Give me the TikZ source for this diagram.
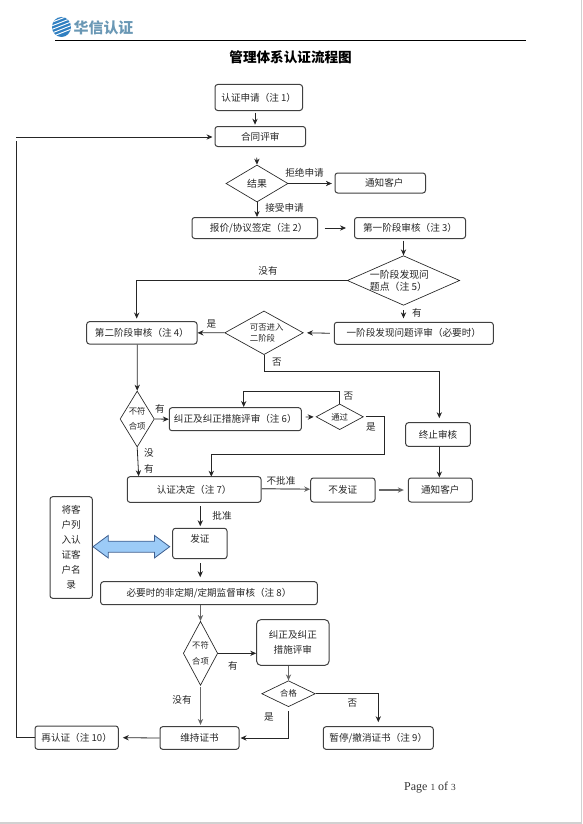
\documentclass[tikz,border=0pt]{standalone}
\usepackage{fontspec}
\setmainfont{Liberation Serif}
\newfontfamily\cjk{Noto Sans CJK SC}
\usepackage{xcolor}
\usetikzlibrary{positioning, arrows.meta, shapes.geometric, calc}
\definecolor{logoblue}{HTML}{2F7FC1}
\definecolor{logotext}{HTML}{6A98B5}
\definecolor{linkfill}{HTML}{9CCBF7}
\definecolor{linkedge}{HTML}{3F5F8F}

\begin{document}
\begin{tikzpicture}[
    x=0.75pt, y=-0.75pt,
    boxsize/.style 2 args={minimum width=#1*0.75pt, minimum height=#2*0.75pt},
    box/.style={rectangle, draw=black!75, line width=0.75pt, rounded corners=2pt, fill=white, text=black!85, font=\cjk\fontsize{7.2}{11}\selectfont, inner sep=0pt, align=center},
    dia/.style={diamond, draw=black!85, line width=0.5pt, fill=white, text=black!85, font=\cjk\fontsize{6.3}{11}\selectfont, inner sep=-30pt, align=center},
    tag/.style={text=black!85, font=\cjk\fontsize{7.2}{9}\selectfont, inner sep=0pt},
    arrow/.style={draw=black!85, line width=0.6pt, -{Stealth[length=4.5pt, width=4pt]}},
    link/.style={draw=black!85, line width=0.6pt},
    grayarrow/.style={arrow, draw=black!60, line width=0.9pt},
]
\useasboundingbox (0,0) rectangle (582,824);
\fill[black!18] (0,822) rectangle (582,824);
\fill[black!18] (581,0) rectangle (582,824);

% header
\begin{scope}
    \clip (61.5,27) ellipse (9.5 and 10);
    \fill[logoblue] (50,15) rectangle (73,39);
    \foreach \k in {0,...,4}
        \draw[white, line width=0.7pt] (50,23+\k*3.6) -- (73,14+\k*3.6);
\end{scope}
\node[text=logotext, font=\cjk\bfseries\fontsize{11.2}{12}\selectfont, inner sep=0pt] (logoname) at (103.5,28) {华信认证};
\coordinate (ruleleft) at (55,40.5);
\coordinate (ruleright) at (526,40.5);
\draw[black, line width=0.75pt] (ruleleft) -- (ruleright);
\node[font=\cjk\bfseries\fontsize{10.2}{12}\selectfont, inner sep=0pt] (title) at (290.6,57) {管理体系认证流程图};
\node[text=black!80, font=\fontsize{9}{10}\selectfont, inner sep=0pt] (pagenum) at (430,788) {Page {\scriptsize 1} of {\scriptsize 3}};

% upper part
\node[box, boxsize={87.5}{26}] (apply) at (258.75,97.5) {认证申请（注 1）};
\node[box, boxsize={90.5}{20}] (contract) at (260.25,136.5) {合同评审};
\node[dia, boxsize={62}{37}, font=\cjk\fontsize{7.4}{11}\selectfont] (result) at (257,183.5) {结果};
\node[box, boxsize={90.5}{20}] (notifya) at (380.25,183) {\hspace*{6pt}通知客户};
\node[box, boxsize={125.5}{21}] (quote) at (254.75,228) {\hspace*{6pt}报价/协议签定（注 2）};
\node[box, boxsize={111}{21}] (stagea) at (410,228) {第一阶段审核（注 3）};
\node[dia, boxsize={112.4}{49.6}, font=\cjk\fontsize{7.4}{9}\selectfont, align=left] (finding) at (403.5,280.5) {\hspace*{-6pt}一阶段发现问\\\hspace*{-6pt}题点（注 5）};
\node[box, boxsize={159}{22}] (findrev) at (413.8,333.3) {一阶段发现问题评审（必要时）};
\node[dia, boxsize={78.6}{43.7}, align=left, font=\cjk\fontsize{6.3}{8.2}\selectfont] (canenter) at (264,332.8) {\hspace*{4pt}可否进入\\\hspace*{4pt}二阶段};
\node[box, boxsize={110.3}{22.3}] (stageb) at (141.85,332.85) {第二阶段审核（注 4）};

% middle part
\node[dia, boxsize={34.3}{56}] (ncone) at (137.2,419) {不符\\合项};
\node[box, boxsize={132}{23}] (corrone) at (235.3,419.2) {纠正及纠正措施评审（注 6）};
\node[dia, boxsize={47.3}{25.7}] (pass) at (339.7,416.8) {通过};
\node[box, boxsize={64.6}{23.6}] (stopaudit) at (438,434.5) {终止审核};
\node[box, boxsize={133.7}{25.6}] (decision) at (194.15,489.5) {认证决定（注 7）};
\node[box, boxsize={64.3}{24}] (nocert) at (342.85,490) {不发证};
\node[box, boxsize={64}{24}] (notifyb) at (440.3,490) {通知客户};
\node[box, boxsize={42.3}{101.6}, font=\cjk\fontsize{7.2}{11.25}\selectfont] (clientlist) at (71.15,547.5) {将客\\户列\\入认\\证客\\户名\\录};
\node[box, boxsize={54.3}{30.4}, text depth=7pt] (issue) at (199.85,543.5) {发证};
\draw[linkedge, line width=0.6pt, fill=linkfill] (93,546.7) -- ++(15.3,-11.3) -- ++(0,5.8) -- ++(46.1,0) -- ++(0,-5.8) -- ++(15.3,11.3) -- ++(-15.3,11.3) -- ++(0,-5.8) -- ++(-46.1,0) -- ++(0,5.8) -- cycle;

% lower part
\node[box, boxsize={216.6}{23}] (survey) at (209,593.2) {必要时的非定期/定期监督审核（注 8）};
\node[dia, boxsize={34.4}{64}, font=\cjk\fontsize{6.2}{12}\selectfont] (nctwo) at (200.5,653.3) {不符\\合项};
\node[box, boxsize={72.3}{45.6}, rounded corners=3pt] (corrtwo) at (292.85,642.5) {纠正及纠正\\措施评审};
\node[dia, boxsize={53.6}{26}, font=\cjk\fontsize{6.2}{9}\selectfont] (okay) at (288.5,693.7) {合格};
\node[box, boxsize={110}{22.6}] (suspend) at (378.3,738) {暂停/撤消证书（注 9）};
\node[box, boxsize={79}{22.6}] (keep) at (199.5,738) {维持证书};
\node[box, boxsize={83.3}{23.3}] (renew) at (76.65,737.65) {再认证（注 10）};

% connectors
\draw[arrow, shorten <=1.2pt, shorten >=1pt] ([xshift=-2.8pt]apply.south) -- ([xshift=-2.8pt]apply.south |- contract.north);
\draw[arrow, shorten <=8pt] ([xshift=-2.8pt]contract.south) -- (result.north);
\draw[arrow] (result.east) -- ([xshift=-2pt]notifya.west |- result.east);
\draw[arrow] (result.south) -- (result.south |- quote.north);
\draw[arrow, shorten <=5pt, shorten >=6pt] (quote.east) -- (stagea.west);
\draw[arrow, shorten <=1.2pt] (finding.north |- stagea.south) -- (finding.north);
\draw[arrow, shorten <=3.5pt, shorten >=2.6pt] (finding.south) -- (finding.south |- findrev.north);
\draw[arrow] (finding.west) -| ([yshift=2pt]stageb.north -| 136.7,0);
\draw[arrow, shorten <=3pt, shorten >=2.5pt] (findrev.west) -- (canenter.east);
\draw[arrow] (canenter.west) -- (stageb.east);
\draw[arrow] (canenter.south) |- (439.3,371.3) -- ([yshift=3pt]stopaudit.north -| 439.3,0);
\draw[arrow] ([xshift=1pt]stopaudit.south) -- ([xshift=1pt]stopaudit.south |- notifyb.north);
\draw[arrow] ([xshift=-3.4pt]stageb.south) -- (ncone.north);
\draw[arrow] (ncone.east) -- (corrone.west);
\draw[arrow, shorten <=2.8pt, shorten >=1.5pt] ([yshift=1.5pt]corrone.east) -- (pass.west);
\draw[link] (pass.north) |- (243.7,391.3);
\draw[arrow] (243.7,391.3) -- (243.7,407);
\draw[link, shorten <=1.5pt] (pass.east) -- (384.3,416.8) |- (211.3,454.3);
\draw[arrow] (211.3,454.3) -- (211.3,476.7);
\draw[arrow] (ncone.south) -- ([xshift=-41.6pt]decision.north);
\draw[grayarrow] ([yshift=0.6pt]decision.east) -- ([yshift=0.6pt]nocert.west);
\draw[grayarrow, shorten <=2.5pt, shorten >=3pt] (nocert.east) -- (notifyb.west);
\draw[arrow, shorten <=2.5pt, shorten >=1.2pt] ([xshift=4.6pt]decision.south) -- ([xshift=4.6pt]decision.south |- issue.north);
\draw[arrow, shorten <=3pt, shorten >=3pt] ([xshift=0.3pt]issue.south) -- ([xshift=0.3pt]issue.south |- survey.north);
\draw[grayarrow] (nctwo.north |- survey.south) -- (nctwo.north);
\draw[arrow] (nctwo.east) -- (nctwo.east -| corrtwo.west);
\draw[grayarrow, line width=0.7pt] (okay.north |- corrtwo.south) -- (okay.north);
\draw[arrow] (okay.east) -| ([yshift=3pt]suspend.north);
\draw[arrow, shorten <=3pt] (okay.south) |- ([xshift=0.8pt]keep.east);
\draw[grayarrow, shorten <=1pt, shorten >=1pt] (nctwo.south) -- (nctwo.south |- keep.north);
\draw[arrow, shorten >=3pt] (keep.west) -- (renew.east);
\coordinate (backlow) at (16.3,737.65);
\coordinate (backhigh) at (16.3,141.3);
\coordinate (backstart) at (16.3,137);
\draw[link, line width=0.75pt] (renew.west) -- (backlow) -- (backhigh);
\draw[arrow] (backstart) -- ([xshift=-1.5pt]contract.west |- backstart);

% labels
\node[tag] (lbrefuse) at (304.5,172.5) {拒绝申请};
\node[tag] (lbaccept) at (284.5,207.5) {接受申请};
\node[tag] (lbnonea) at (268,270.5) {没有};
\node[tag] (lbhave) at (417,313.3) {有};
\node[tag] (lbyesa) at (211.3,324.3) {是};
\node[tag] (lbnoa) at (277,362.3) {否};
\node[tag] (lbhaveb) at (160,409) {有};
\node[tag] (lbnob) at (348.3,396) {否};
\node[tag] (lbyesb) at (371,426.7) {是};
\node[tag] (lbnonec) at (149,453.3) {没};
\node[tag] (lbnoned) at (149,468.7) {有};
\node[tag] (lbreject) at (281,481.3) {不批准};
\node[tag] (lbappr) at (222,516.3) {批准};
\node[tag] (lbhavec) at (233,665.7) {有};
\node[tag] (lbnonee) at (182,700.3) {没有};
\node[tag] (lbnoc) at (352.3,703.3) {否};
\node[tag] (lbyesc) at (269,716.7) {是};
\end{tikzpicture}
\end{document}
